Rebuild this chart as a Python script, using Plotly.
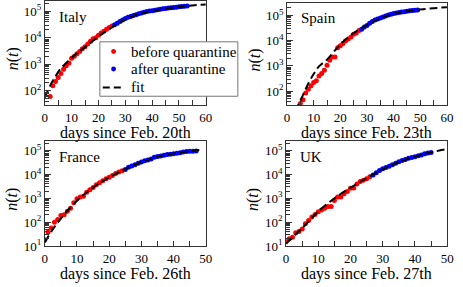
import plotly.graph_objects as go

FONT = "Liberation Serif"

# ---------------- data ----------------
italy_before_days = list(range(2, 26))
italy_before = [62, 155, 229, 322, 453, 655, 888, 1128, 1694, 2036, 2502, 3089, 3858, 4636,
                5883, 7375, 9172, 10149, 12462, 15113, 17660, 21157, 24747, 27980]
italy_after_days = list(range(26, 54))
italy_after = [31506, 35713, 41035, 47021, 53578, 59138, 63927, 69176, 74386, 80589, 86498,
               92472, 97689, 101739, 105792, 110574, 115242, 119827, 124632, 128948, 132547,
               135586, 139422, 143626, 147577, 152271, 156363, 159516]
italy_fit_days = [0, 2, 4, 6, 8, 10, 12, 15, 20, 25, 30, 35, 40, 45, 50, 55, 60]
italy_fit = [56, 158, 355, 708, 1122, 1778, 2630, 4467, 11220, 25120, 50120, 77620, 102300,
             125900, 147900, 166000, 182000]

spain_before_days = list(range(5, 28))
spain_before = [32, 45, 84, 120, 165, 222, 259, 400, 500, 673, 1073, 1695, 2277, 2277, 5232,
                6391, 7798, 9942, 11748, 13910, 17963, 20410, 25374]
spain_after_days = list(range(28, 50))
spain_after = [28603, 35136, 39885, 49515, 57786, 65719, 73235, 80110, 87956, 95923, 104118,
               112065, 119199, 126168, 131646, 136675, 141942, 148220, 153222, 158273, 163027,
               166831]
spain_fit_days = [3, 5, 8, 10, 12, 15, 18, 20, 25, 30, 35, 40, 45, 50, 55, 60]
spain_fit = [16, 42, 200, 479, 955, 1778, 4169, 7244, 19950, 41690, 75860, 114800, 147900,
             173800, 195000, 213800]

france_before_days = list(range(0, 25))
france_before = [18, 38, 57, 100, 130, 191, 204, 288, 380, 656, 957, 1136, 1219, 1794, 2293,
                 2876, 3681, 4496, 5423, 6683, 7715, 9124, 10970, 12758, 14463]
france_after_days = list(range(25, 48))
france_after = [16243, 20123, 22622, 25600, 29551, 33402, 38105, 40708, 45170, 52827, 57749,
                59929, 65202, 69500, 71412, 75343, 79163, 83080, 87366, 91738, 94863, 95403,
                98076]
france_fit_days = [0, 2, 5, 10, 15, 20, 25, 30, 35, 40, 45, 49]
france_fit = [14, 40, 141, 794, 2818, 7586, 16600, 33110, 54950, 75860, 95500, 112200]

uk_before_days = list(range(0, 27))
uk_before = [15, 20, 23, 36, 40, 51, 86, 116, 164, 207, 274, 322, 384, 459, 459, 802, 1144,
             1145, 1551, 1960, 2642, 2716, 4014, 5067, 5745, 6726, 8164]
uk_after_days = list(range(27, 46))
uk_after = [9640, 11812, 14745, 17312, 19780, 22453, 25481, 29865, 34173, 38689, 42477, 48436,
            52279, 55949, 61474, 65872, 74605, 79874, 85206]
uk_fit_days = [0, 5, 10, 15, 20, 25, 30, 35, 40, 45, 50]
uk_fit = [12.6, 56, 282, 1000, 2818, 7079, 16600, 33110, 56230, 85110, 117500]

countries = ["Italy", "Spain", "France", "UK"]
x_titles = ["days since Feb. 20th", "days since Feb. 23th",
            "days since Feb. 26th", "days since Feb. 27th"]
y_tick_vals = [10, 100, 1000, 10000, 100000]
y_tick_text = ["10<sup>1</sup>", "10<sup>2</sup>", "10<sup>3</sup>",
               "10<sup>4</sup>", "10<sup>5</sup>"]
legend_names = ["before quarantine", "after quarantine", "fit"]

series = [
    (italy_before_days, italy_before, italy_after_days, italy_after, italy_fit_days, italy_fit),
    (spain_before_days, spain_before, spain_after_days, spain_after, spain_fit_days, spain_fit),
    (france_before_days, france_before, france_after_days, france_after, france_fit_days, france_fit),
    (uk_before_days, uk_before, uk_after_days, uk_after, uk_fit_days, uk_fit),
]

# ---------------- layout geometry (pixels in a 463x287 canvas) ----------------
W, H = 463, 287


def px(x):
    return x / W


def py(y):
    return 1 - y / H


boxes = [  # left, right, top, bottom (px)
    (42.7, 207.3, 1.0, 108.0),
    (290.3, 453.7, 3.0, 108.0),
    (42.7, 207.3, 145.0, 253.0),
    (289.3, 454.0, 145.0, 253.0),
]
x_ranges = [[0, 60], [0, 60], [0, 50], [0, 50]]
y_ranges = [[1.47, 5.39], [1.45, 5.5], [1.0, 5.41], [1.0, 5.41]]

minor_vals = [m * 10 ** e for e in range(0, 6) for m in range(2, 10)]

fig = go.Figure()
LINE = "#333333"
RED, BLUE = "#ff0000", "#0000ff"

for i, (bd, bv, ad, av, fd, fv) in enumerate(series):
    sx = "" if i == 0 else str(i + 1)
    xa, ya = "x" + sx, "y" + sx
    fig.add_trace(go.Scatter(x=bd, y=bv, mode="markers", name=legend_names[0],
                             marker=dict(color=RED, size=5), showlegend=False,
                             xaxis=xa, yaxis=ya))
    fig.add_trace(go.Scatter(x=ad, y=av, mode="markers", name=legend_names[1],
                             marker=dict(color=BLUE, size=5), showlegend=False,
                             xaxis=xa, yaxis=ya))
    fig.add_trace(go.Scatter(x=fd, y=fv, mode="lines", name=legend_names[2],
                             line=dict(color="black", width=2, dash="8px,4px", shape="spline"),
                             showlegend=False, xaxis=xa, yaxis=ya))

    l, r, t, b = boxes[i]
    common = dict(showline=True, linecolor=LINE, linewidth=1, mirror=True,
                  ticks="inside", tickcolor=LINE, showgrid=False, zeroline=False,
                  tickfont=dict(family=FONT, size=13, color="black"))
    fig.layout["xaxis" + sx] = dict(domain=[px(l), px(r)], range=x_ranges[i], anchor=ya,
                                    dtick=10, tick0=0, ticklen=5,
                                    minor=dict(ticks="inside", dtick=5, ticklen=5, tickcolor=LINE),
                                    **common)
    fig.layout["yaxis" + sx] = dict(domain=[py(b), py(t)], type="log", range=y_ranges[i],
                                    anchor=xa, tickmode="array", tickvals=y_tick_vals,
                                    ticktext=y_tick_text, ticklen=6,
                                    minor=dict(ticks="inside", tickmode="array", tickvals=minor_vals,
                                               ticklen=4, tickcolor=LINE),
                                    **common)
    # panel name
    fig.add_annotation(text=countries[i], xref="paper", yref="paper",
                       x=px(l + 12), y=py(t + 16), xanchor="left", yanchor="middle",
                       showarrow=False, font=dict(family=FONT, size=15, color="black"))
    # x title
    fig.add_annotation(text=x_titles[i], xref="paper", yref="paper",
                       x=px((l + r) / 2), y=py(b + 29), xanchor="center", yanchor="middle",
                       showarrow=False, font=dict(family=FONT, size=16, color="black"))
    # y title
    fig.add_annotation(text="<i>n</i>(<i>t</i>)", xref="paper", yref="paper",
                       x=px(l - 33), y=py((t + b) / 2 + 6), xanchor="center",
                       yanchor="middle", textangle=-90, showarrow=False,
                       font=dict(family=FONT, size=16, color="black"))

# ---------------- legend (drawn inside the Italy panel) ----------------
leg_l, leg_r, leg_t, leg_b = 99, 240, 43, 99
fig.add_shape(type="rect", xref="paper", yref="paper", x0=px(leg_l), x1=px(leg_r),
              y0=py(leg_b), y1=py(leg_t), fillcolor="white",
              line=dict(color="#777777", width=1), layer="above")
row_y = [53, 71, 90]
for yy, col in zip(row_y[:2], [RED, BLUE]):
    fig.add_shape(type="circle", xref="paper", yref="paper",
                  x0=px(110.5), x1=px(115.5), y0=py(yy + 2.5), y1=py(yy - 2.5),
                  fillcolor=col, line=dict(color=col, width=0), layer="above")
fig.add_shape(type="line", xref="paper", yref="paper", x0=px(102), x1=px(121),
              y0=py(row_y[2]), y1=py(row_y[2]),
              line=dict(color="black", width=2, dash="7px,4px"), layer="above")
for yy, name in zip(row_y, legend_names):
    fig.add_annotation(text=name, xref="paper", yref="paper", x=px(129), y=py(yy),
                       xanchor="left", yanchor="middle", showarrow=False,
                       font=dict(family=FONT, size=15, color="black"))

fig.update_layout(
    width=W, height=H, margin=dict(l=0, r=0, t=0, b=0),
    paper_bgcolor="white", plot_bgcolor="white",
    font=dict(family=FONT, size=14, color="black"),
    showlegend=False, hovermode=False,
)

fig.write_html("out.html", config={"displayModeBar": False, "staticPlot": True},
               post_script="document.body.style.margin='0';")
